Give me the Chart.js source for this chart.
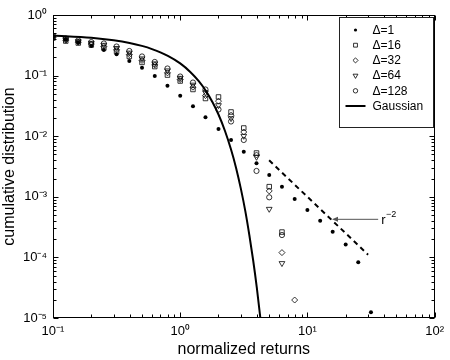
<!DOCTYPE html>
<html><head><meta charset="utf-8">
<script src="https://cdn.jsdelivr.net/npm/chart.js@4.4.1/dist/chart.umd.min.js"></script>
<style>html,body{margin:0;padding:0;background:#fff}#wrap{width:450px;height:360px}</style>
</head><body><div id="wrap"><canvas id="c" width="450" height="360"></canvas></div>
<script>
// normalized returns (x positions of the measured points)
const returnsX = [0.1, 0.126, 0.158, 0.2, 0.251, 0.316, 0.398, 0.501, 0.631, 0.794,
  1, 1.26, 1.58, 2, 2.51, 3.16, 3.98, 5.01, 6.31, 7.94,
  10, 12.6, 15.8, 20, 25.1, 31.6];
// cumulative distributions
const delta1 = [0.434, 0.394, 0.352, 0.308, 0.265, 0.225, 0.174, 0.135, 0.0985, 0.0681,
  0.0466, 0.0311, 0.0205, 0.01315, 0.00866, 0.00555, 0.00357, 0.00229, 0.00147, 0.00092,
  0.000606, 0.000403, 0.000266, 0.000163, 0.000083, 0.0000124];
const delta16 = [0.417, 0.372, 0.345, 0.320, 0.285, 0.250, 0.207, 0.165, 0.141, 0.102,
  0.0814, 0.059, 0.0419, 0.0444, 0.0251, 0.01365, 0.00528, 0.00147, 0.000262];
const delta32 = [0.428, 0.384, 0.356, 0.332, 0.302, 0.266, 0.222, 0.178, 0.150, 0.111,
  0.0862, 0.0644, 0.0469, 0.0379, 0.0222, 0.01173, 0.0049, 0.00125, 0.00012, 0.0000198];
const delta64 = [0.439, 0.397, 0.368, 0.345, 0.320, 0.284, 0.238, 0.191, 0.158, 0.121,
  0.0913, 0.0704, 0.0526, 0.0323, 0.0197, 0.01008, 0.00454, 0.000629, 0.00008];
const delta128 = [0.450, 0.410, 0.380, 0.358, 0.339, 0.302, 0.255, 0.207, 0.168, 0.131,
  0.0966, 0.0769, 0.059, 0.0276, 0.01748, 0.00866, 0.00267, 0.000981, 0.000234];
// Gaussian curve
const gaussX = [0.1, 0.2, 0.3, 0.4, 0.5, 0.6, 0.8, 1.0, 1.2, 1.4, 1.6, 1.8, 2.0, 2.25, 2.5, 2.75, 3.0, 3.25, 3.5, 3.75, 4.0, 4.25, 4.5];
const gaussY = [0.46, 0.421, 0.382, 0.345, 0.309, 0.274, 0.212, 0.159, 0.115, 0.081, 0.055, 0.036, 0.0228, 0.0122, 0.0062, 0.003, 0.00135, 0.00058, 0.00023, 0.000088, 0.000032, 0.0000107, 0.0000034];
// r^-2 guide line and its arrow
const powerLawX = [5, 30];
const powerLawY = [0.004, 0.000111];
const arrowX = [36, 15.6];
const arrowY = [0.000425, 0.000425];
const arrowLabel = ['r', '−2'];
// axes
const xTickValues = [0.1, 1, 10, 100];
const xTickLabels = ['10⁻¹', '10⁰', '10¹', '10²'];
const yTickValues = [1e-5, 1e-4, 1e-3, 1e-2, 1e-1, 1];
const yTickLabels = ['10⁻⁵', '10⁻⁴', '10⁻³', '10⁻²', '10⁻¹', '10⁰'];
const seriesNames = ['Δ=1', 'Δ=16', 'Δ=32', 'Δ=64', 'Δ=128', 'Gaussian'];

const FONT = "'Liberation Sans', Arial, Helvetica, sans-serif";
Chart.defaults.font.family = FONT;
Chart.defaults.color = '#000';

function pts(xs, ys) {
  const out = [];
  ys.forEach((y, i) => { if (y != null) out.push({x: xs[i], y: y}); });
  return out;
}
const hollow = {backgroundColor: 'rgba(0,0,0,0)', borderColor: '#000', borderWidth: 0.8, pointBorderWidth: 0.8};
const markerStyles = [
  {pointStyle: 'circle', pointRadius: 2, pointBackgroundColor: '#000', pointBorderColor: '#000', pointBorderWidth: 0, rot: 0},
  Object.assign({pointStyle: 'rect', pointRadius: 3.2, pointBackgroundColor: 'rgba(0,0,0,0)', pointBorderColor: '#000', rot: 0}, hollow),
  Object.assign({pointStyle: 'rectRot', pointRadius: 3, pointBackgroundColor: 'rgba(0,0,0,0)', pointBorderColor: '#000', rot: 0}, hollow),
  Object.assign({pointStyle: 'triangle', pointRadius: 3.3, pointBackgroundColor: 'rgba(0,0,0,0)', pointBorderColor: '#000', rot: 180}, hollow),
  Object.assign({pointStyle: 'circle', pointRadius: 2.6, pointBackgroundColor: 'rgba(0,0,0,0)', pointBorderColor: '#000', rot: 0}, hollow)
];
const seriesData = [delta1, delta16, delta32, delta64, delta128];

const datasets = seriesData.map((ys, i) => Object.assign({
  label: seriesNames[i], data: pts(returnsX, ys), showLine: false,
  pointRotation: markerStyles[i].rot
}, markerStyles[i]));
datasets.push({label: seriesNames[5], data: pts(gaussX, gaussY), showLine: true, pointRadius: 0,
  borderColor: '#000', borderWidth: 2, cubicInterpolationMode: 'monotone', fill: false});
datasets.push({label: 'r^-2', data: pts(powerLawX, powerLawY), showLine: true, pointRadius: 0,
  borderColor: '#000', borderWidth: 2, borderDash: [5, 4], fill: false});

function marker(ctx, style, x, y, r, rot) {
  ctx.beginPath();
  if (style === 'circle') { ctx.arc(x, y, r, 0, Math.PI * 2); }
  else if (style === 'rect') { const s = r * Math.SQRT1_2; ctx.rect(x - s, y - s, 2 * s, 2 * s); }
  else if (style === 'rectRot') { ctx.moveTo(x - r, y); ctx.lineTo(x, y - r); ctx.lineTo(x + r, y); ctx.lineTo(x, y + r); ctx.closePath(); }
  else if (style === 'triangle') {
    let a = rot * Math.PI / 180;
    for (let k = 0; k < 3; k++) { const px = x + Math.sin(a) * r, py = y - Math.cos(a) * r; k ? ctx.lineTo(px, py) : ctx.moveTo(px, py); a += 2 * Math.PI / 3; }
    ctx.closePath();
  }
}

const decor = {
  id: 'decor',
  afterDraw(chart) {
    const ctx = chart.ctx, a = chart.chartArea, xs = chart.scales.x, ys = chart.scales.y;
    ctx.save();
    ctx.strokeStyle = '#000'; ctx.lineWidth = 1;
    const L = Math.round(a.left) + 0.5, R = Math.round(a.right) - 0.5, T = Math.round(a.top) + 0.5, B = Math.round(a.bottom) - 0.5;
    // ticks
    ctx.beginPath();
    for (let d = -1; d <= 2; d++) {
      for (let m = 1; m <= (d < 2 ? 9 : 1); m++) {
        const v = m * Math.pow(10, d), px = Math.round(xs.getPixelForValue(v)) + 0.5, len = m === 1 ? 5 : 3;
        ctx.moveTo(px, B); ctx.lineTo(px, B - len);
        ctx.moveTo(px, T); ctx.lineTo(px, T + len);
      }
    }
    for (let d = -5; d <= 0; d++) {
      for (let m = 1; m <= (d < 0 ? 9 : 1); m++) {
        const v = m * Math.pow(10, d), py = Math.round(ys.getPixelForValue(v)) + 0.5, len = m === 1 ? 5 : 3;
        ctx.moveTo(L, py); ctx.lineTo(L + len, py);
        ctx.moveTo(R, py); ctx.lineTo(R - len, py);
      }
    }
    ctx.stroke();
    ctx.strokeRect(L, T, R - L, B - T);

    // arrow to the r^-2 line
    const ax0 = xs.getPixelForValue(arrowX[0]), ay0 = ys.getPixelForValue(arrowY[0]);
    const ax1 = xs.getPixelForValue(arrowX[1]), ay1 = ys.getPixelForValue(arrowY[1]);
    ctx.strokeStyle = '#555'; ctx.fillStyle = '#555'; ctx.lineWidth = 1;
    ctx.beginPath(); ctx.moveTo(ax0, ay0); ctx.lineTo(ax1 + 5, ay1); ctx.stroke();
    ctx.beginPath(); ctx.moveTo(ax1, ay1); ctx.lineTo(ax1 + 6, ay1 - 2.5); ctx.lineTo(ax1 + 6, ay1 + 2.5); ctx.closePath(); ctx.fill();
    ctx.fillStyle = '#000'; ctx.textBaseline = 'middle'; ctx.textAlign = 'left';
    ctx.font = '13px ' + FONT;
    ctx.fillText(arrowLabel[0], ax0 + 3, ay0 + 1);
    const rw = ctx.measureText(arrowLabel[0]).width;
    ctx.font = '9px ' + FONT;
    ctx.fillText(arrowLabel[1], ax0 + 3 + rw + 0.5, ay0 - 5);

    // legend
    const lr = Math.round(a.right) - 1.5, lw = 94, lt = 17.5, lh = 110;
    ctx.fillStyle = '#fff'; ctx.fillRect(lr - lw, lt, lw, lh);
    ctx.strokeStyle = '#222'; ctx.lineWidth = 1; ctx.strokeRect(lr - lw, lt, lw, lh);
    const mx = lr - lw + 16, tx = lr - lw + 33;
    ctx.font = '12px ' + FONT; ctx.textBaseline = 'middle';
    for (let i = 0; i < 6; i++) {
      const y = lt + 12.5 + i * 15.2;
      if (i < 5) {
        const s = markerStyles[i];
        ctx.lineWidth = 0.8; ctx.strokeStyle = '#000';
        marker(ctx, s.pointStyle, mx, y, i === 0 ? 1.6 : s.pointRadius * 0.85, s.rot);
        if (i === 0) { ctx.fillStyle = '#000'; ctx.fill(); } else ctx.stroke();
      } else {
        ctx.lineWidth = 2; ctx.strokeStyle = '#000';
        ctx.beginPath(); ctx.moveTo(mx - 10, y); ctx.lineTo(mx + 10, y); ctx.stroke();
      }
      ctx.fillStyle = '#000';
      ctx.fillText(seriesNames[i], tx, y + 0.5);
    }
    ctx.restore();
  }
};

new Chart(document.getElementById('c'), {
  type: 'scatter',
  data: {datasets: datasets},
  plugins: [decor],
  options: {
    responsive: false, animation: false, events: [],
    layout: {padding: {left: 0, right: 13, top: 15, bottom: 0}},
    plugins: {legend: {display: false}, tooltip: {enabled: false}},
    scales: {
      x: {
        type: 'logarithmic', min: 0.1, max: 100,
        grid: {display: false, drawTicks: false}, border: {display: false},
        afterBuildTicks: s => { s.ticks = xTickValues.map(v => ({value: v})); },
        afterFit: s => { s.height = 42; },
        ticks: {autoSkip: false, maxRotation: 0, padding: 6, font: {size: 13},
          callback: v => { const i = xTickValues.findIndex(t => Math.abs(t - v) / t < 1e-6); return i < 0 ? '' : xTickLabels[i]; }},
        title: {display: true, text: 'normalized returns', font: {size: 16}, padding: {top: 0, bottom: 1}}
      },
      y: {
        type: 'logarithmic', min: 1e-5, max: 1,
        grid: {display: false, drawTicks: false}, border: {display: false},
        afterBuildTicks: s => { s.ticks = yTickValues.map(v => ({value: v})); },
        afterFit: s => { s.width = 53; },
        ticks: {autoSkip: false, padding: 6, font: {size: 13},
          callback: v => { const i = yTickValues.findIndex(t => Math.abs(t - v) / t < 1e-6); return i < 0 ? '' : yTickLabels[i]; }},
        title: {display: true, text: 'cumulative distribution', font: {size: 16}, padding: {top: 0, bottom: 0}}
      }
    }
  }
});
</script>
</body></html>
